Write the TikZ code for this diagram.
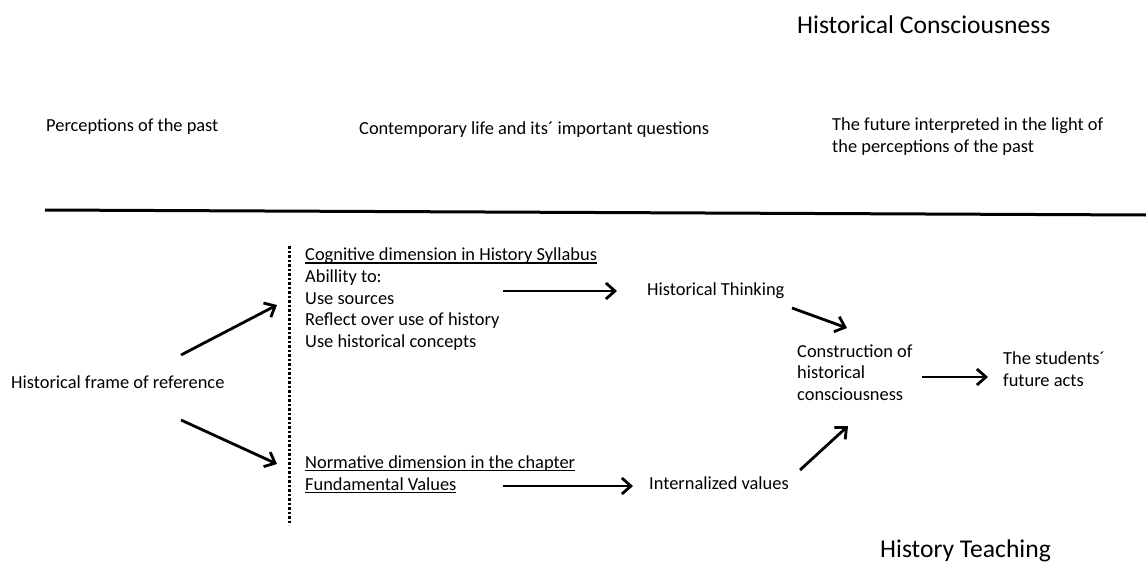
\documentclass[tikz,border=0pt]{standalone}
\usepackage{fontspec}
\setmainfont{Carlito}
\usetikzlibrary{arrows.meta}
\newcommand{\myul}[1]{\setbox0\hbox{#1}\rlap{\rule[-3.2pt]{\wd0}{1.4pt}}\box0}
\begin{document}
\begin{tikzpicture}[x=1pt,y=-1pt,
  txt/.style={anchor=base west,inner sep=0pt,font=\fontsize{18.4}{21.75}\selectfont,align=left},
  big/.style={anchor=base west,inner sep=0pt,font=\fontsize{25.6}{30}\selectfont},
  arr/.style={line width=2.8pt,-{Straight Barb[length=9pt,width=16pt,line width=2.8pt]}}]
\useasboundingbox (0,0) rectangle (1146,562);
\fill[white] (0,0) rectangle (1146,562);
% top section
\node[big] (hc) at (797,33) {Historical Consciousness};
\node[txt] (past) at (46,131.7) {Perceptions of the past};
\node[txt] (cont) at (359,134) {Contemporary life and its´ important questions};
\node[txt] (fut) at (832,152) {The future interpreted in the light of\\the perceptions of the past};
% divider
\coordinate (dl) at (45,210);
\coordinate (dr) at (1146,215);
\draw[line width=3pt] (dl) -- (dr);
% dotted vertical line
\coordinate (vt) at (289,246);
\coordinate (vb) at (289,525);
\draw[line width=3pt,dash pattern=on 2.5pt off 2pt] (vt) -- (vb);
% left node
\node[txt] (hfr) at (11,388.5) {Historical frame of reference};
% cognitive block
\node[txt] (cog) at (305,347.5) {\myul{Cognitive dimension in History Syllabus}\\Abillity to:\\Use sources\\Reflect over use of history\\Use historical concepts};
\node[txt] (norm) at (305,490) {\myul{Normative dimension in the chapter}\\\myul{Fundamental Values}};
\node[txt] (ht) at (647,295) {Historical Thinking};
\node[txt] (iv) at (649,489.5) {Internalized values};
\node[txt] (con) at (797,400.5) {Construction of\\historical\\consciousness};
\node[txt] (stu) at (1003,386.5) {The students´\\future acts};
\node[big] (hte) at (880,557) {History Teaching};
% arrow end coordinates
\coordinate (a1s) at (181,355); \coordinate (a1e) at (277,305);
\coordinate (a2s) at (181,420); \coordinate (a2e) at (277,464);
\coordinate (a3s) at (503,291); \coordinate (a3e) at (617,291);
\coordinate (a4s) at (503,486); \coordinate (a4e) at (633,486);
\coordinate (a5s) at (792,308); \coordinate (a5e) at (847,328);
\coordinate (a6s) at (800,470); \coordinate (a6e) at (848,426);
\coordinate (a7s) at (922,377); \coordinate (a7e) at (988,377);
\draw[arr] (a1s) -- (a1e);
\draw[arr] (a2s) -- (a2e);
\draw[arr] (a3s) -- (a3e);
\draw[arr] (a4s) -- (a4e);
\draw[arr] (a5s) -- (a5e);
\draw[arr] (a6s) -- (a6e);
\draw[arr] (a7s) -- (a7e);
\end{tikzpicture}
\end{document}
